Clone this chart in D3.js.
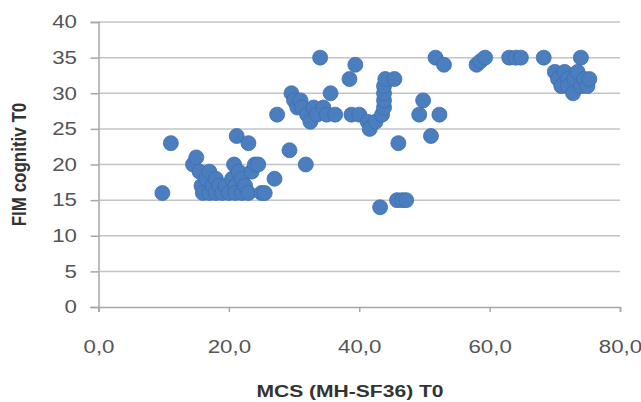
<!DOCTYPE html>
<html>
<head>
<meta charset="utf-8">
<script src="https://cdn.jsdelivr.net/npm/d3@7/dist/d3.min.js"></script>
<style>
  body { margin: 0; background: #fff; }
  svg { display: block; }
</style>
</head>
<body>
<div class="chart"></div>
<script>
// MCS (MH-SF36) T0 vs FIM cognitiv T0
const mcs = [
	9.8, 11.1, 14.5, 15, 15.5, 15.8, 16, 16.5, 17, 17, 17.5, 18, 18, 18.5, 19, 19.5, 20, 20.5,
	20.8, 21, 21, 21.2, 21.5, 22, 22, 22.5, 23, 23, 23.5, 24, 24.5, 25, 25.5, 27, 27.4,
	29.3, 29.6, 30, 30.5, 31, 31.2, 31.8, 32, 32.5, 33, 33.5, 34, 34.5, 35, 35.6, 36.3,
	38.5, 39.4, 38.8, 40, 41.3, 41.6, 42.5, 43.2, 43.5, 43.8, 43.8, 43.8, 43.8, 44, 45.4,
	46, 45.8, 46.6, 47.2, 49.2, 49.8, 51, 51.7, 52.3, 53, 58, 58.6, 59.3, 63, 64, 64.8, 68.3,
	70, 70.5, 71, 71.5, 72, 72, 72.8, 73, 73.5, 74, 74, 74.5, 75, 75.3
]
const fim = [
	16, 23, 20, 21, 19, 17, 16, 18, 16, 19, 17, 16, 18, 17, 16, 17, 16, 18,
	20, 17, 16, 24, 19, 18, 16, 17, 23, 16, 19, 20, 20, 16, 16, 18, 27,
	22, 30, 29, 28, 29, 28, 20, 27, 26, 28, 27, 35, 28, 27, 30, 27,
	32, 34, 27, 27, 26, 25, 26, 14, 27, 28, 29, 30, 31, 32, 32,
	23, 15, 15, 15, 27, 29, 24, 35, 27, 34, 34, 34.5, 35, 35, 35, 35, 35,
	33, 32, 31, 33, 32, 31, 30, 32, 33, 31, 35, 32, 31, 32
]
const xTicks = [0, 20, 40, 60, 80]
const yTicks = [0, 5, 10, 15, 20, 25, 30, 35, 40]

const points = mcs.map((x, i) => ({ x, y: fim[i] }))

// the source picture is stretched sideways, text included
const STRETCH = 1.24

const createChart = () => {
	const margin = { top: 22, right: 21, bottom: 95, left: 98.5 }
	const width = 641
	const height = 402
	const x = d3.scaleLinear().domain([0, 80]).range([margin.left, width - margin.right])
	const y = d3.scaleLinear().domain([0, 40]).range([height - margin.bottom, margin.top])

	const svg = d3.select('.chart')
		.append('svg')
		.attr('width', width)
		.attr('height', height)
		.style('font-family', '"Liberation Sans", Arial, sans-serif')

	// gridlines
	svg.append('g')
		.selectAll('line')
		.data(yTicks.filter(d => d > 0))
		.join('line')
		.attr('x1', x(0))
		.attr('x2', x(80))
		.attr('y1', d => y(d))
		.attr('y2', d => y(d))
		.attr('stroke', '#c4c4c4')
		.attr('stroke-width', 1.5)

	const yAxis = svg.append('g')
		.attr('transform', `translate(${x(0)},0)`)
		.call(d3.axisLeft(y).tickValues(yTicks).tickSize(8).tickPadding(13))
	const xAxis = svg.append('g')
		.attr('transform', `translate(0,${y(0)})`)
		.call(d3.axisBottom(x).tickValues(xTicks).tickSize(5).tickPadding(28)
			.tickFormat(d => d3.format('.1f')(d).replace('.', ',')))

	;[xAxis, yAxis].forEach(a => {
		a.select('.domain').attr('stroke', '#a6a6a6').attr('stroke-width', 1.5)
		a.selectAll('.tick line').attr('stroke', '#a6a6a6').attr('stroke-width', 1.5)
		a.selectAll('.tick text').attr('fill', '#555').style('font-size', '18px')
	})
	yAxis.selectAll('.tick text')
		.attr('x', -21.5 / STRETCH)
		.attr('transform', `scale(${STRETCH},1)`)
	xAxis.selectAll('.tick text')
		.attr('transform', `scale(${STRETCH},1)`)

	svg.append('g')
		.selectAll('circle')
		.data(points)
		.join('circle')
		.attr('cx', d => x(d.x))
		.attr('cy', d => y(d.y))
		.attr('r', 7.5)
		.attr('fill', '#4a7ebf')
		.attr('stroke', '#3f6fae')
		.attr('stroke-width', 0.8)

	svg.append('text')
		.attr('transform', `translate(350,397) scale(${STRETCH},1)`)
		.attr('text-anchor', 'middle')
		.attr('font-weight', 'bold')
		.attr('font-size', 17)
		.attr('fill', '#333')
		.text('MCS (MH-SF36) T0')

	svg.append('text')
		.attr('transform', `translate(26,${(y(0) + y(40)) / 2}) scale(${STRETCH},1) rotate(-90)`)
		.attr('text-anchor', 'middle')
		.attr('font-weight', 'bold')
		.attr('font-size', 17)
		.attr('fill', '#333')
		.text('FIM cognitiv T0')
}

createChart()
</script>
</body>
</html>
